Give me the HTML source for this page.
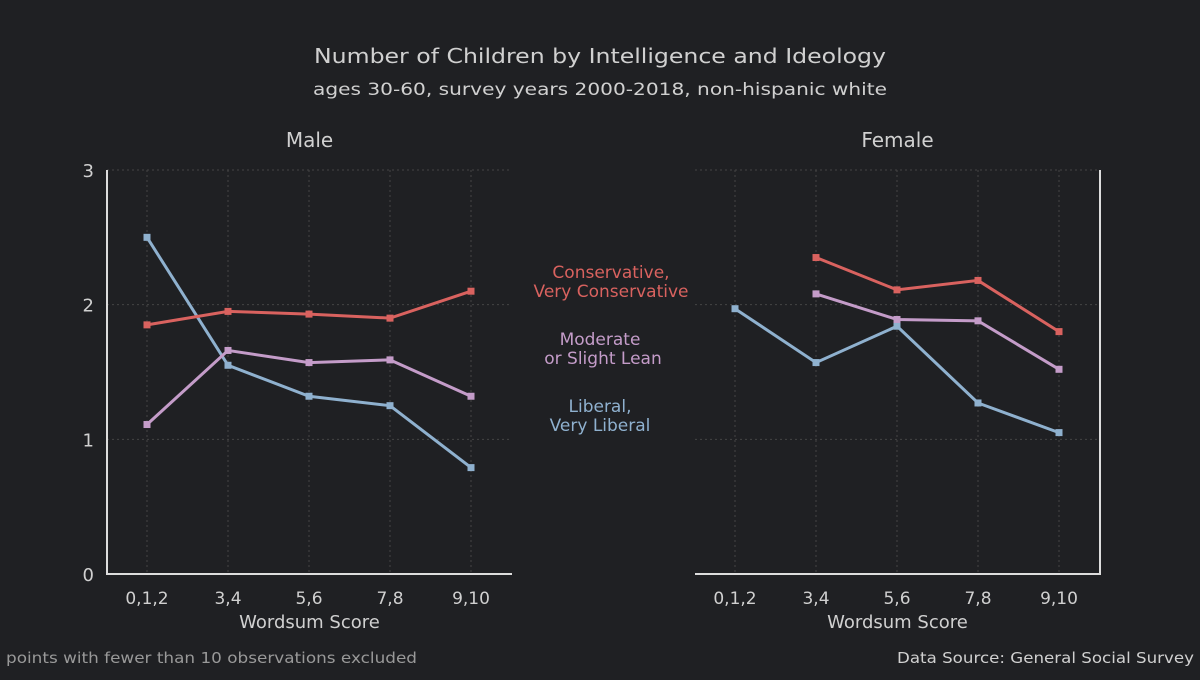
<!DOCTYPE html>
<html><head><meta charset="utf-8"><style>
body{margin:0;background:#1f2023;}
svg text{font-family:"DejaVu Sans","Liberation Sans",sans-serif;fill:#d0d0d0;}
</style></head><body>
<svg width="1200" height="675" viewBox="0 0 1200 675">
<rect width="1200" height="675" fill="#1f2023"/>
<text x="600" y="63" text-anchor="middle" font-size="20" textLength="572" lengthAdjust="spacingAndGlyphs">Number of Children by Intelligence and Ideology</text>
<text x="600" y="95" text-anchor="middle" font-size="17" textLength="574" lengthAdjust="spacingAndGlyphs">ages 30-60, survey years 2000-2018, non-hispanic white</text>
<g id="plots"></g>
<text x="605" y="278" text-anchor="middle" font-size="17" style="fill:#d9625f"><tspan x="611">Conservative,</tspan><tspan x="611" dy="19">Very Conservative</tspan></text>
<text x="600" y="345" text-anchor="middle" font-size="17" style="fill:#c49cc9"><tspan x="600">Moderate</tspan><tspan x="603" dy="19">or Slight Lean</tspan></text>
<text x="600" y="412" text-anchor="middle" font-size="17" style="fill:#8fb1cf"><tspan x="600">Liberal,</tspan><tspan x="600" dy="19">Very Liberal</tspan></text>
<text x="6" y="663" font-size="15" textLength="411" lengthAdjust="spacingAndGlyphs" style="fill:#999">points with fewer than 10 observations excluded</text>
<text x="1194" y="663" text-anchor="end" font-size="15" textLength="297" lengthAdjust="spacingAndGlyphs">Data Source: General Social Survey</text>
</svg>
<script>
const categories=["0,1,2","3,4","5,6","7,8","9,10"];
const yTicks=[0,1,2,3];
const maleCons=[1.85,1.95,1.93,1.90,2.10];
const maleMod=[1.11,1.66,1.57,1.59,1.32];
const maleLib=[2.50,1.55,1.32,1.25,0.79];
const femCons=[null,2.35,2.11,2.18,1.80];
const femMod=[null,2.08,1.89,1.88,1.52];
const femLib=[1.97,1.57,1.84,1.27,1.05];
const colors={cons:"#d9625f",mod:"#c49cc9",lib:"#8fb1cf"};
const NS="http://www.w3.org/2000/svg";
const g=document.getElementById('plots');
function mk(t,a,p){const e=document.createElementNS(NS,t);for(const k in a)e.setAttribute(k,a[k]);(p||g).appendChild(e);return e;}
function panel(x0,x1,title,series,left,key){
  const top=170,bot=574;
  const y=v=>bot-(v/3)*(bot-top);
  const x=i=>x0+40+i*81;
  const grp=mk('g',{});
  
  
  const t=mk('text',{x:(x0+x1)/2,y:147,'text-anchor':'middle','font-size':20},grp);t.textContent=title;
  
  
  yTicks.forEach(v=>{
    if(v>0){const l=mk('line',{x1:x0,x2:x1,y1:y(v),y2:y(v),stroke:'#444','stroke-dasharray':'2,3'},grp);
    
    }
    if(left){const tt=mk('text',{x:x0-13,y:y(v)+7,'text-anchor':'end','font-size':18},grp);tt.textContent=v;
    
    }
  });
  categories.forEach((c,i)=>{
    const l=mk('line',{x1:x(i),x2:x(i),y1:top,y2:bot,stroke:'#444','stroke-dasharray':'2,3'},grp);
    
    
    const tt=mk('text',{x:x(i),y:604,'text-anchor':'middle','font-size':17},grp);tt.textContent=c;
    
    
  });
  const ax=mk('path',{d:left?`M${x0},${top}V${bot}H${x1}`:`M${x0},${bot}H${x1}V${top}`,stroke:'#ddd','stroke-width':2,fill:'none'},grp);
  
  
  const xt=mk('text',{x:(x0+x1)/2,y:628,'text-anchor':'middle','font-size':18},grp);xt.textContent='Wordsum Score';
  
  
  series.forEach(([name,vals,col])=>{
    const pts=vals.map((v,i)=>v==null?null:[x(i),y(v)]).filter(p=>p);
    const pl=mk('polyline',{points:pts.map(p=>p.join(',')).join(' '),fill:'none',stroke:col,'stroke-width':3},grp);
    
    
    pts.forEach(p=>{const r=mk('rect',{x:p[0]-3.5,y:p[1]-3.5,width:7,height:7,fill:col},grp);
      
      });
  });
}
panel(107,512,'Male',[['liberal',maleLib,colors.lib],['moderate',maleMod,colors.mod],['conservative',maleCons,colors.cons]],true,'male');
panel(695,1100,'Female',[['liberal',femLib,colors.lib],['moderate',femMod,colors.mod],['conservative',femCons,colors.cons]],false,'female');
</script>
</body></html>
